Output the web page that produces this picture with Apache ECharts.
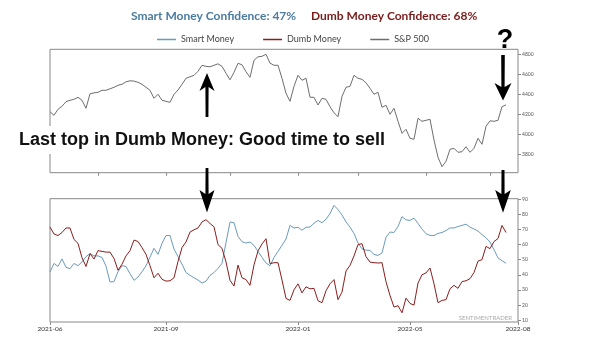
<!DOCTYPE html>
<html><head><meta charset="utf-8">
<script src="https://cdn.jsdelivr.net/npm/echarts@6/dist/echarts.min.js"></script>
<style>html,body{margin:0;padding:0;background:#fff}#c{width:600px;height:346px}</style>
</head><body><div id="c"></div>
<script>
// sample index i corresponds to evenly spaced observations across the period
const xLabelIdx = [0, 29, 62, 90, 117];
const xLabelText = ['2021-06', '2021-09', '2022-01', '2022-05', '2022-08'];
const upperTickIdx = [12, 29, 45, 62, 77, 94, 110];
const nCats = 118;

const sp500 = [4226,4190,4250,4280,4326,4340,4350,4370,4340,4260,
  4405,4415,4420,4440,4440,4455,4470,4490,4500,4525,
  4535,4532,4520,4500,4470,4440,4360,4400,4340,4330,
  4320,4400,4443,4500,4560,4575,4590,4630,4690,4680,
  4675,4690,4705,4680,4610,4545,4620,4710,4695,4626,
  4570,4740,4775,4780,4800,4712,4690,4690,4560,4410,
  4330,4480,4590,4540,4560,4370,4370,4293,4360,4350,
  4276,4215,4176,4380,4470,4480,4590,4560,4550,4515,
  4460,4400,4420,4270,4290,4200,4260,4130,4010,4050,
  3960,3950,4160,4130,4140,4150,3943,3770,3676,3730,
  3850,3860,3820,3826,3876,3820,3860,3960,3900,4080,
  4135,4130,4140,4276,4295];

const smartMoney = [41.8,47.5,45.5,50.5,45,44,47.5,46,48.5,52,
  54,52.5,52.5,51.5,45.7,35.2,35.5,42,46,45.5,
  40.7,36.3,38.5,42,46,51.7,57.5,53.5,60.8,66,
  66,57,52,47,41.5,39.6,38,36.5,34.5,35.8,
  39.6,41.5,44.2,47.6,61.3,74.9,74.5,65.4,61.9,61,
  61.7,59.5,55.5,51.5,47.8,46,51.5,55.5,59.5,63.7,
  72.7,71,71.5,69.5,71.5,71.6,74.2,76,74.5,76.8,
  80.5,86,83.2,79.6,75,71.6,67.4,61,57.2,56.3,
  56.1,53.5,52.8,54.4,64.9,68.3,68,72,78.5,76.4,
  76,77.5,74,70.3,67.2,66.1,66,67.4,68,69.3,
  71,71,72,72.7,73.5,71.6,70.3,69,66.6,64.5,
  61.7,56.6,51.2,49.3,47.6];

const dumbMoney = [71.6,67,66,68,71,71,63.4,60.8,51.3,45.5,
  54,50.4,56,55.5,55,55,50.8,43,47,52.5,
  56,63,62,58,53.5,46,38,41,37,35.8,
  36,38,48.8,58,61.7,68.3,69.8,71,75,76.5,
  74,71.8,60,57.5,48.5,36.3,32.5,46.4,38,36.8,
  33,46.6,55.8,60.4,63.9,47.3,48,48,36.5,24.3,
  23,30,34,28,32,30.7,31,22.8,21.5,29.4,
  34,36.8,23.5,28.5,42.5,46.2,52.5,60,60.6,52,
  48.4,48,47.8,48,35.4,26.3,18.6,19.5,14.8,24.5,
  21,19.9,34.5,40,41.2,44.5,34,21.5,23,23.5,
  30.7,33,31,35.5,36,37.4,41.5,49,50,58.8,
  57.3,62,64,72.7,68];

const cats = Array.from({length: nCats}, (_, i) => String(i));
const C_SMART = '#6b9bbb', C_DUMB = '#8b1d1d', C_SP = '#6e6e6e';

const chart = echarts.init(document.getElementById('c'), null, {renderer: 'canvas'});

const rightAxis = (gi, mn, mx, sn) => ({
  gridIndex: gi, type: 'value', position: 'right', min: mn, max: mx, splitNumber: sn,
  axisLine: {show: false}, splitLine: {show: false},
  axisTick: {show: true, length: 3, lineStyle: {color: '#888'}},
  axisLabel: {fontSize: 5, color: '#555', margin: 4, showMinLabel: false, showMaxLabel: false,
    fontFamily: 'Lato', formatter: v => String(v)}
});

chart.setOption({
  animation: false,
  backgroundColor: '#fff',
  title: [
    {text: 'Smart Money Confidence: 47%', left: 131, top: 10, padding: 0,
     textStyle: {color: '#4b7b9e', fontSize: 12, fontWeight: 'bold', fontFamily: 'Lato'}},
    {text: 'Dumb Money Confidence: 68%', left: 311, top: 10, padding: 0,
     textStyle: {color: '#7a1b1b', fontSize: 12, fontWeight: 'bold', fontFamily: 'Lato'}}
  ],
  legend: {
    data: ['Smart Money', 'Dumb Money', 'S&P 500'],
    left: 157, top: 35, padding: 0, itemWidth: 19, itemHeight: 1.5, itemGap: 29, icon: 'rect',
    textStyle: {fontSize: 9, color: '#444', fontFamily: 'Lato'}
  },
  grid: [
    {left: 50, right: 82, top: 49.3, height: 123.4, show: true, borderColor: '#888', borderWidth: 1},
    {left: 50, right: 82, top: 198.7, height: 123.3, show: true, borderColor: '#888', borderWidth: 1}
  ],
  xAxis: [
    {gridIndex: 0, type: 'category', data: cats, boundaryGap: false,
     axisLine: {show: false}, splitLine: {show: false},
     axisTick: {show: true, length: 3, interval: i => upperTickIdx.includes(i), lineStyle: {color: '#888'}},
     axisLabel: {show: false}},
    {gridIndex: 1, type: 'category', data: cats, boundaryGap: false,
     axisLine: {show: false}, splitLine: {show: false},
     axisTick: {show: true, length: 3, interval: i => xLabelIdx.includes(i), lineStyle: {color: '#888'}},
     axisLabel: {interval: i => xLabelIdx.includes(i), fontSize: 6.5, color: '#333', margin: 3,
       fontFamily: 'Lato', formatter: (v, i) => xLabelText[xLabelIdx.indexOf(Number(v))] || ''}}
  ],
  yAxis: [rightAxis(0, 3616, 4850, 6), rightAxis(1, 8.7, 90.4, 8)],
  series: [
    {name: 'Smart Money', type: 'line', xAxisIndex: 1, yAxisIndex: 1, data: smartMoney,
     symbol: 'none', showSymbol: false, lineStyle: {color: C_SMART, width: 1}, itemStyle: {color: C_SMART}},
    {name: 'Dumb Money', type: 'line', xAxisIndex: 1, yAxisIndex: 1, data: dumbMoney,
     symbol: 'none', showSymbol: false, lineStyle: {color: C_DUMB, width: 1}, itemStyle: {color: C_DUMB}},
    {name: 'S&P 500', type: 'line', xAxisIndex: 0, yAxisIndex: 0, data: sp500,
     symbol: 'none', showSymbol: false, lineStyle: {color: C_SP, width: 1}, itemStyle: {color: C_SP}}
  ],
  graphic: [
    {type: 'text', z: 100, style: {x: 17, y: 140, text: 'Last top in Dumb Money: Good time to sell',
      font: 'bold 18px "Liberation Sans", sans-serif', fill: '#111', verticalAlign: 'middle',
      backgroundColor: '#fff', padding: [5, 2]}},
    {type: 'polygon', z: 100, shape: {points: [[207,73],[214.5,91],[208.6,87],[208.4,117],[205.6,117],[205.4,87],[199.5,91]]}, style: {fill: '#000'}},
    {type: 'polygon', z: 100, shape: {points: [[205.6,168],[208.4,168],[208.6,194],[214.5,190],[207,212.5],[199.5,190],[205.4,194]]}, style: {fill: '#000'}},
    {type: 'polygon', z: 100, shape: {points: [[501.2,55],[504.8,55],[504.6,87],[511.5,83],[503,100.5],[494.5,83],[501.4,87]]}, style: {fill: '#000'}},
    {type: 'polygon', z: 100, shape: {points: [[501.5,170],[504.5,170],[504.6,194],[510.8,190],[503,212.7],[495.2,190],[501.4,194]]}, style: {fill: '#000'}},
    {type: 'text', z: 100, style: {x: 505, y: 41, text: '?', font: 'bold 27px "Liberation Sans", sans-serif',
      fill: '#000', align: 'center', verticalAlign: 'middle'}},
    {type: 'text', z: 100, style: {x: 512, y: 318.5, text: 'SENTIMENTRADER', font: '6px Lato, sans-serif',
      fill: '#aaa', align: 'right', verticalAlign: 'middle'}}
  ]
});
</script>
</body></html>
